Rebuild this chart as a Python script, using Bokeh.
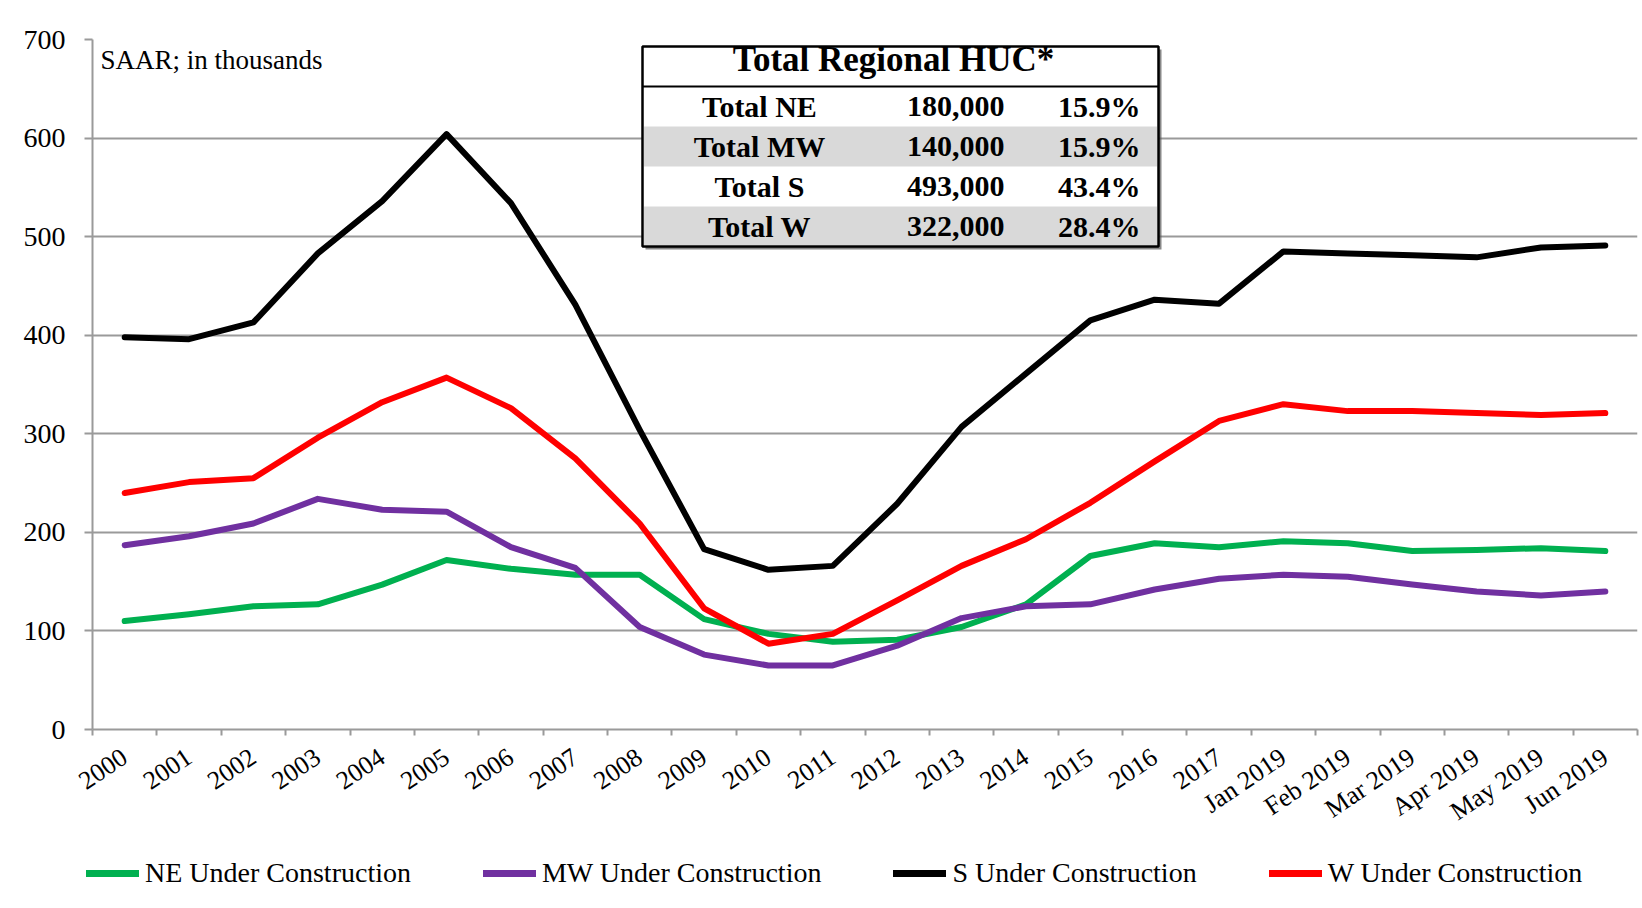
import math
from bokeh.plotting import figure
from bokeh.layouts import column
from bokeh.models import (FactorRange, Range1d, LinearAxis, CategoricalAxis, FixedTicker,
                          Legend, LegendItem, Label, BoxAnnotation)
from bokeh.embed import file_html
from bokeh.resources import INLINE

# ---------------- data ----------------
categories = ["2000", "2001", "2002", "2003", "2004", "2005", "2006", "2007", "2008",
              "2009", "2010", "2011", "2012", "2013", "2014", "2015", "2016", "2017",
              "Jan 2019", "Feb 2019", "Mar 2019", "Apr 2019", "May 2019", "Jun 2019"]

ne_values = [110, 117, 125, 127, 147, 172, 163, 157, 157, 112, 97, 89,
             91, 104, 127, 176, 189, 185, 191, 189, 181, 182, 184, 181]
mw_values = [187, 196, 209, 234, 223, 221, 185, 164, 104, 76, 65, 65,
             85, 113, 125, 127, 142, 153, 157, 155, 147, 140, 136, 140]
s_values = [398, 396, 413, 483, 536, 604, 534, 431, 304, 183, 162, 166,
            229, 307, 361, 415, 436, 432, 485, 483, 481, 479, 489, 491]
w_values = [240, 251, 255, 296, 332, 357, 326, 275, 209, 123, 87, 97,
            131, 166, 193, 230, 272, 313, 330, 323, 323, 321, 319, 321]

series_names = ["NE Under Construction", "MW Under Construction",
                "S Under Construction", "W Under Construction"]
series_colors = ["#00B050", "#7030A0", "#000000", "#FF0000"]

y_ticks = [0, 100, 200, 300, 400, 500, 600, 700]

note_text = "SAAR; in thousands"
table_title = "Total Regional HUC*"
table_labels = ["Total NE", "Total MW", "Total S", "Total W"]
table_values = ["180,000", "140,000", "493,000", "322,000"]
table_shares = ["15.9%", "15.9%", "43.4%", "28.4%"]

# ---------------- layout ----------------
W = 1642
H_MAIN, H_LEG = 850, 58
ML, MR, MT = 92, 5, 39
Y0_PX = 729            # pixel row of value 0
MB = H_MAIN - Y0_PX
FONT = "Liberation Serif"
GRID = "#9a9a9a"

FL, FR = ML, W - MR
CW = (FR - FL) / len(categories)
PPU = (Y0_PX - MT) / 700.0


def dx(px):
    return (px - FL) / CW


def dy(py):
    return (Y0_PX - py) / PPU


def base(py, fs):
    # Label text is drawn ~0.33em lower than the alphabetic baseline requested
    return dy(py - 0.33 * fs)


p = figure(width=W, height=H_MAIN,
           x_range=FactorRange(factors=categories, range_padding=0),
           y_range=Range1d(0, 700),
           output_backend="svg", toolbar_location=None,
           x_axis_location=None, y_axis_location="left",
           min_border_left=ML, min_border_right=MR,
           min_border_top=MT, min_border_bottom=MB)
p.outline_line_color = None
p.background_fill_color = "white"
p.border_fill_color = "white"

# y axis
yax = p.yaxis[0]
yax.ticker = FixedTicker(ticks=y_ticks)
yax.axis_line_color = GRID
yax.axis_line_width = 2
yax.major_tick_line_color = GRID
yax.major_tick_line_width = 2
yax.major_tick_out = 8
yax.major_tick_in = 0
yax.minor_tick_line_color = None
yax.major_label_text_font = FONT
yax.major_label_text_font_size = "28px"
yax.major_label_text_color = "black"
yax.major_label_standoff = 19

p.ygrid.ticker = FixedTicker(ticks=y_ticks)
p.ygrid.grid_line_color = GRID
p.ygrid.grid_line_width = 2
p.xgrid.visible = False

# x axis: boundary ticks
xa = LinearAxis(ticker=FixedTicker(ticks=list(range(len(categories) + 1))))
xa.axis_line_color = GRID
xa.axis_line_width = 2
xa.major_tick_line_color = GRID
xa.major_tick_line_width = 2
xa.major_tick_out = 6
xa.major_tick_in = 0
xa.minor_tick_line_color = None
xa.major_label_text_font_size = "0px"
xa.major_label_text_color = None
xa.major_label_standoff = 0
p.add_layout(xa, "below")

# x axis: category labels
xb = CategoricalAxis()
xb.axis_line_color = None
xb.major_tick_line_color = None
xb.minor_tick_line_color = None
xb.major_tick_out = 0
xb.major_label_orientation = math.radians(34)
xb.major_label_text_font = FONT
xb.major_label_text_font_size = "26px"
xb.major_label_text_color = "black"
xb.major_label_standoff = 19
p.add_layout(xb, "below")

# series
all_values = [ne_values, mw_values, s_values, w_values]
for vals, col in zip(all_values, series_colors):
    p.line(x=categories, y=vals, line_color=col, line_width=6,
           line_cap="round", line_join="round")

# note
p.add_layout(Label(x=dx(100), y=base(68, 27), text=note_text, text_font=FONT,
                   text_font_size="27px", text_color="black",
                   text_align="left", text_baseline="alphabetic"))

# table
p.add_layout(BoxAnnotation(left=dx(645), right=dx(1161), top=dy(49), bottom=dy(249),
                           fill_color="#555555", fill_alpha=0.7, line_color=None,
                           level="annotation"))
p.add_layout(BoxAnnotation(left=dx(642), right=dx(1158), top=dy(46), bottom=dy(246),
                           fill_color="white", fill_alpha=1, line_color="black",
                           line_alpha=1, line_width=2.5, level="annotation"))
row_tops = [86, 126, 166, 206]
for i, top in enumerate(row_tops):
    if i % 2 == 1:
        p.add_layout(BoxAnnotation(left=dx(643.5), right=dx(1156.5), top=dy(top),
                                   bottom=dy(min(top + 40, 244.5)),
                                   fill_color="#d9d9d9", fill_alpha=1, line_color=None,
                                   level="annotation"))
p.add_layout(BoxAnnotation(left=dx(642), right=dx(1158), top=dy(85), bottom=dy(87),
                           fill_color="black", fill_alpha=1, line_color=None,
                           level="annotation"))

p.add_layout(Label(x=dx(893), y=base(71, 35), text=table_title, text_font=FONT,
                   text_font_size="35px", text_font_style="bold", text_color="black",
                   text_align="center", text_baseline="alphabetic"))
for i, top in enumerate(row_tops):
    by = base(top + 30, 30)
    p.add_layout(Label(x=dx(759), y=by, text=table_labels[i], text_font=FONT,
                       text_font_size="30px", text_font_style="bold", text_color="black",
                       text_align="center", text_baseline="alphabetic"))
    p.add_layout(Label(x=dx(1004), y=by, text=table_values[i], text_font=FONT,
                       text_font_size="30px", text_font_style="bold", text_color="black",
                       text_align="right", text_baseline="alphabetic"))
    p.add_layout(Label(x=dx(1140), y=by, text=table_shares[i], text_font=FONT,
                       text_font_size="30px", text_font_style="bold", text_color="black",
                       text_align="right", text_baseline="alphabetic"))

# ---------------- legend strip (separate figure below the chart) ----------------
pl = figure(width=W, height=H_LEG,
            x_range=FactorRange(factors=categories, range_padding=0),
            y_range=Range1d(0, 700),
            output_backend="svg", toolbar_location=None,
            x_axis_location=None, y_axis_location=None,
            min_border_left=0, min_border_right=0, min_border_top=0, min_border_bottom=0)
pl.outline_line_color = None
pl.xgrid.visible = False
pl.ygrid.visible = False

try:
    p.frame_align = False
    pl.frame_align = False
    legend_x = 86
except AttributeError:
    legend_x = 86 - ML

legend_items = []
for name, vals, col in zip(series_names, all_values, series_colors):
    r = pl.line(x=categories, y=vals, line_color=col, line_width=7,
                line_cap="round", visible=False)
    legend_items.append(LegendItem(label=name, renderers=[r]))

legend = Legend(items=legend_items, orientation="horizontal",
                location=(legend_x, 18),
                glyph_width=53, glyph_height=34, label_height=34,
                label_standoff=6, spacing=72, padding=0, margin=0,
                border_line_color=None, background_fill_alpha=0,
                inactive_fill_alpha=0,
                label_text_font=FONT, label_text_font_size="28px",
                label_text_color="black")
pl.add_layout(legend, "center")

layout = column(p, pl, spacing=0)
open("out.html", "w").write(file_html(layout, INLINE))
